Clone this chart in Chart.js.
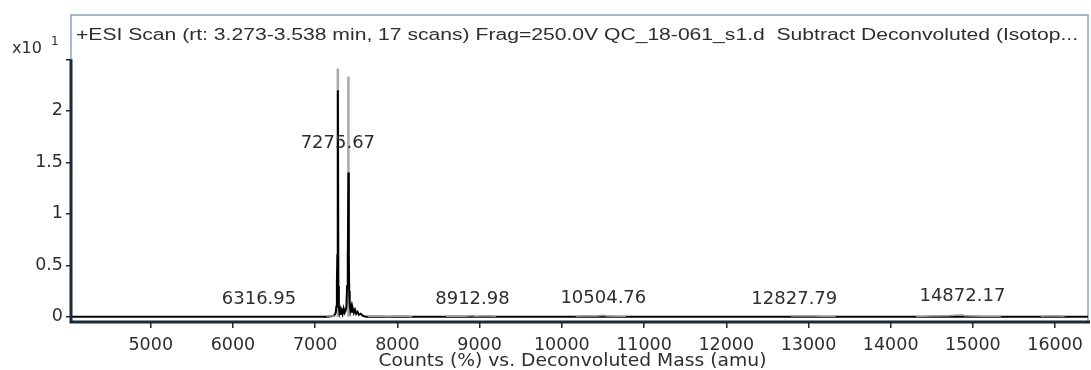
<!DOCTYPE html>
<html>
<head>
<meta charset="utf-8">
<script src="https://cdn.jsdelivr.net/npm/chart.js@4.4.1/dist/chart.umd.min.js"></script>
<style>
    html, body { margin: 0; padding: 0; background: #fff; }
    #wrap { width: 1091px; height: 370px; position: relative; }
</style>
</head>
<body>
<div id="wrap"><canvas id="spectrum"></canvas></div>
<script>
// data

const titleText =
    "+ESI Scan (rt: 3.273-3.538 min, 17 scans) Frag=250.0V QC_18-061_s1.d  Subtract Deconvoluted (Isotop...";

const xAxisTitle =
    "Counts (%) vs. Deconvoluted Mass (amu)";

const xTicks = [
    5000, 6000, 7000, 8000, 9000, 10000,
    11000, 12000, 13000, 14000, 15000, 16000
];

const yTicks = [0, 0.5, 1, 1.5, 2, 2.5];

const yTickLabels = ["0", "0.5", "1", "1.5", "2", ""];

// black profile trace (x10^1 counts)
const profileMass = [
    4030, 7150, 7230, 7250, 7258, 7264, 7270, 7276, 7282, 7288,
    7296, 7305, 7314, 7324, 7334, 7346, 7358, 7370, 7380, 7388,
    7394, 7399, 7404, 7409, 7414, 7420, 7428, 7438, 7448, 7458,
    7470, 7484, 7498, 7514, 7532, 7552, 7580, 7620, 16400
];

const profileCounts = [
    0, 0, 0.01, 0.04, 0.1, 0.33, 0.6, 2.2, 0.3, 0.1,
    0.04, 0.07, 0.02, 0.06, 0.03, 0.08, 0.04, 0.06, 0.1, 0.3,
    0.65, 0.5, 1.4, 0.6, 0.25, 0.12, 0.06, 0.1, 0.05, 0.08,
    0.04, 0.07, 0.03, 0.05, 0.02, 0.03, 0.01, 0, 0
];

// grey centroid sticks
const stickMass = [7275.67, 7404];
const stickCounts = [2.41, 2.33];

// grey low level trace (null = gap)
const noiseMass = [
    7140, 7190, 7240, 7240,
    7640, 7760, 7880, 8000, 8120, 8180, 8180,
    8590, 8700, 8820, 8912.98, 8950, 9080, 9200, 9200,
    10170, 10300, 10420, 10504.76, 10550, 10680, 10780, 10780,
    12790, 12827.79, 12900, 13020, 13150, 13330, 13330,
    14310, 14500, 14700, 14872.17, 14900, 15100, 15340, 15340,
    15825, 15950, 16115
];

const noiseCounts = [
    0.006, 0.01, 0.005, null,
    0.005, 0.008, 0.004, 0.009, 0.005, 0.004, null,
    0.005, 0.009, 0.006, 0.012, 0.007, 0.01, 0.005, null,
    0.006, 0.01, 0.008, 0.015, 0.009, 0.006, 0.005, null,
    0.005, 0.01, 0.008, 0.01, 0.006, 0.005, null,
    0.004, 0.008, 0.01, 0.02, 0.01, 0.007, 0.005, null,
    0.005, 0.01, 0.006
];

// annotated peaks
const peakMass = [6316.95, 7275.67, 8912.98, 10504.76, 12827.79, 14872.17];
const peakLabelLevel = [0.08, 1.6, 0.08, 0.09, 0.08, 0.11];

const textColor = "#2e2e2e";
const axisColor = "#1d2939";
const frameColor = "#8ba3c2";
const font = "\"DejaVu Sans\", sans-serif";

function toPoints(xs, ys) {
    return xs.map((x, i) => ({ x: x, y: ys[i] }));
}

function stickPoints() {
    const pts = [];
    stickMass.forEach((m, i) => {
        pts.push({ x: m, y: 0 });
        pts.push({ x: m, y: stickCounts[i] });
        pts.push({ x: m, y: null });
    });
    return pts;
}

// draws text squeezed or stretched to a given width
function fillStretched(ctx, text, x, y, width) {
    const w = ctx.measureText(text).width;
    ctx.save();
    ctx.translate(x, y);
    ctx.scale(width / w, 1);
    ctx.fillText(text, 0, 0);
    ctx.restore();
}

const framePlugin = {
    id: "frame",
    beforeDatasetsDraw(chart) {
        const { ctx, chartArea: a } = chart;
        ctx.save();
        ctx.strokeStyle = frameColor;
        ctx.lineWidth = 1.5;
        ctx.strokeRect(a.left, a.top, a.right - a.left, a.bottom - a.top);
        ctx.restore();
    },
    afterDraw(chart) {
        const { ctx, chartArea: a } = chart;
        const xs = chart.scales.x;
        const ys = chart.scales.y;

        ctx.save();

        // thick axes
        ctx.strokeStyle = axisColor;
        ctx.lineWidth = 3;
        ctx.beginPath();
        ctx.moveTo(a.left, ys.getPixelForValue(yTicks[yTicks.length - 1]));
        ctx.lineTo(a.left, a.bottom);
        ctx.lineTo(a.right + 2, a.bottom);
        ctx.stroke();

        ctx.fillStyle = textColor;

        // title inside the plot, stretched like the source rendering
        ctx.font = "16px \"Liberation Sans\", Arial, sans-serif";
        ctx.textAlign = "left";
        ctx.textBaseline = "alphabetic";
        fillStretched(ctx, titleText, a.left + 5, a.top + 25, a.right - a.left - 15);

        // exponent marker
        ctx.font = "16px " + font;
        ctx.fillText("x10", 12, a.top + 38);
        ctx.font = "12px " + font;
        ctx.fillText("1", 51, a.top + 30);

        // peak labels
        ctx.font = "18px " + font;
        ctx.textAlign = "center";
        ctx.textBaseline = "bottom";
        peakMass.forEach((m, i) => {
            ctx.fillText(
                m.toFixed(2),
                xs.getPixelForValue(m),
                ys.getPixelForValue(peakLabelLevel[i])
            );
        });

        // axis title overlapping the tick labels
        ctx.font = "18px " + font;
        ctx.textAlign = "left";
        ctx.textBaseline = "alphabetic";
        fillStretched(ctx, xAxisTitle, xs.getPixelForValue(7770), chart.height - 4, 388);

        ctx.restore();
    }
};

new Chart(document.getElementById("spectrum"), {
    type: "scatter",
    data: {
        datasets: [
            {
                label: "noise",
                data: toPoints(noiseMass, noiseCounts),
                showLine: true,
                spanGaps: false,
                borderColor: "#9a9a9a",
                borderWidth: 1.5,
                pointRadius: 0,
                order: 0
            },
            {
                label: "profile",
                data: toPoints(profileMass, profileCounts),
                showLine: true,
                borderColor: "#000",
                borderWidth: 2,
                pointRadius: 0,
                order: 1
            },
            {
                label: "sticks",
                data: stickPoints(),
                showLine: true,
                spanGaps: false,
                borderColor: "#a8a8a8",
                borderWidth: 2.5,
                pointRadius: 0,
                order: 2
            }
        ]
    },
    options: {
        responsive: true,
        maintainAspectRatio: false,
        animation: false,
        devicePixelRatio: 1,
        layout: {
            padding: { top: 15, right: 3, left: 0, bottom: 0 }
        },
        plugins: {
            legend: { display: false },
            tooltip: { enabled: false },
            title: { display: false }
        },
        scales: {
            x: {
                type: "linear",
                min: 4030,
                max: 16400,
                afterBuildTicks: s => {
                    s.ticks = xTicks.map(v => ({ value: v }));
                },
                afterFit: s => {
                    s.height = 48;
                },
                border: { display: false },
                grid: {
                    drawOnChartArea: false,
                    drawTicks: true,
                    tickLength: 6,
                    color: axisColor,
                    lineWidth: 1.5
                },
                ticks: {
                    autoSkip: false,
                    maxRotation: 0,
                    padding: 7,
                    color: textColor,
                    font: { family: "DejaVu Sans", size: 17.5 },
                    callback: v => String(v)
                }
            },
            y: {
                min: -0.05,
                max: 2.93,
                afterBuildTicks: s => {
                    s.ticks = yTicks.map(v => ({ value: v }));
                },
                afterFit: s => {
                    s.width = 71;
                },
                border: { display: false },
                grid: {
                    drawOnChartArea: false,
                    drawTicks: true,
                    tickLength: 5,
                    color: axisColor,
                    lineWidth: 1.5
                },
                ticks: {
                    padding: 3,
                    color: textColor,
                    font: { family: "DejaVu Sans", size: 17.5 },
                    callback: (v, i) => yTickLabels[i]
                }
            }
        }
    },
    plugins: [framePlugin]
});
</script>
</body>
</html>
